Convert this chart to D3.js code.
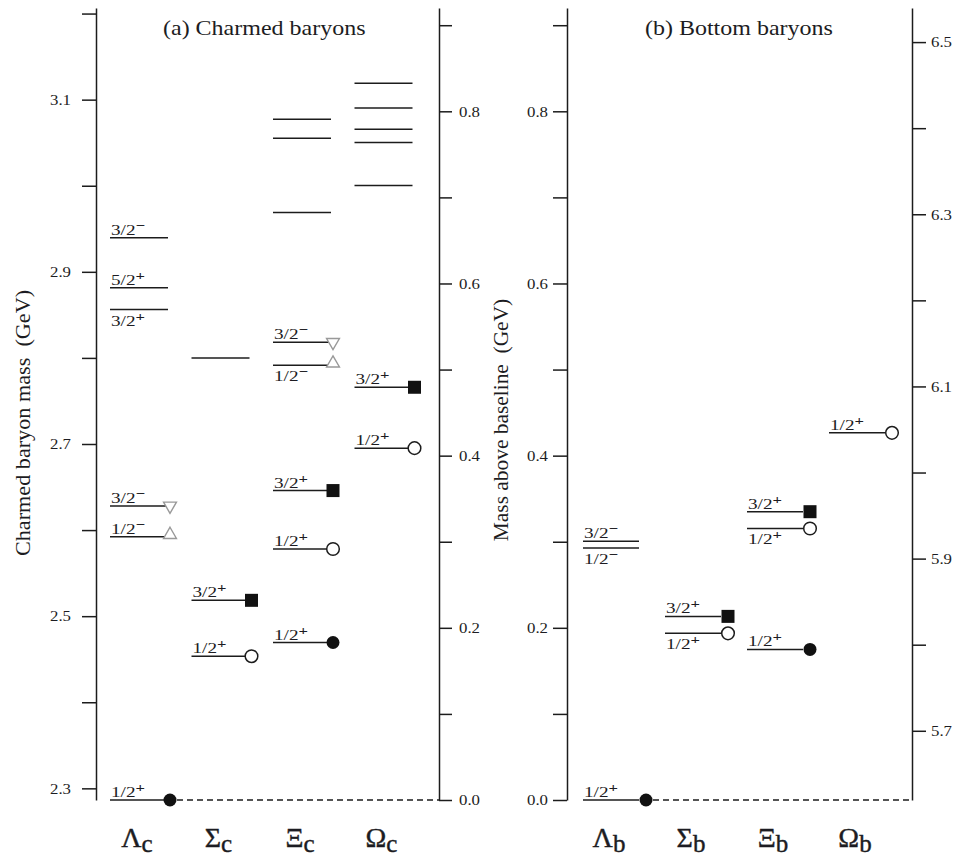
<!DOCTYPE html>
<html>
<head>
<meta charset="utf-8">
<script src="https://cdn.jsdelivr.net/npm/d3@7"></script>
<style>
  body { margin: 0; background: #fff; }
  text { font-family: "Liberation Serif", "Times New Roman", serif; fill: #1c1c22; }
</style>
</head>
<body>
<svg id="chart" width="959" height="856"></svg>
<script>
// Ground-state masses used as the zero of the offset axes (GeV)
const charmBase = 2.28646;   // Λc
const bottomBase = 5.6196;   // Λb

const charmFamilies = ["Λ", "Σ", "Ξ", "Ω"];
const bottomFamilies = ["Λ", "Σ", "Ξ", "Ω"];

// Charmed baryon levels: family, mass (GeV), J^P, label side, marker
const charmLevels = [
  { fam: "Λ", m: 2.28646, jp: "1/2+", side: "above", mark: "dot" },
  { fam: "Λ", m: 2.5923,  jp: "1/2−", side: "above", mark: "triUp" },
  { fam: "Λ", m: 2.6281,  jp: "3/2−", side: "above", mark: "triDown" },
  { fam: "Λ", m: 2.8561,  jp: "3/2+", side: "below", mark: null },
  { fam: "Λ", m: 2.8816,  jp: "5/2+", side: "above", mark: null },
  { fam: "Λ", m: 2.9396,  jp: "3/2−", side: "above", mark: null },
  { fam: "Σ", m: 2.4535,  jp: "1/2+", side: "above", mark: "open" },
  { fam: "Σ", m: 2.5184,  jp: "3/2+", side: "above", mark: "square" },
  { fam: "Σ", m: 2.8000,  jp: null,   side: null,    mark: null },
  { fam: "Ξ", m: 2.4694,  jp: "1/2+", side: "above", mark: "dot" },
  { fam: "Ξ", m: 2.5780,  jp: "1/2+", side: "above", mark: "open" },
  { fam: "Ξ", m: 2.6459,  jp: "3/2+", side: "above", mark: "square" },
  { fam: "Ξ", m: 2.7915,  jp: "1/2−", side: "below", mark: "triUp" },
  { fam: "Ξ", m: 2.8182,  jp: "3/2−", side: "above", mark: "triDown" },
  { fam: "Ξ", m: 2.9690,  jp: null,   side: null,    mark: null },
  { fam: "Ξ", m: 3.0553,  jp: null,   side: null,    mark: null },
  { fam: "Ξ", m: 3.0772,  jp: null,   side: null,    mark: null },
  { fam: "Ω", m: 2.6952,  jp: "1/2+", side: "above", mark: "open" },
  { fam: "Ω", m: 2.7659,  jp: "3/2+", side: "above", mark: "square" },
  { fam: "Ω", m: 3.0004,  jp: null,   side: null,    mark: null },
  { fam: "Ω", m: 3.0502,  jp: null,   side: null,    mark: null },
  { fam: "Ω", m: 3.0656,  jp: null,   side: null,    mark: null },
  { fam: "Ω", m: 3.0902,  jp: null,   side: null,    mark: null },
  { fam: "Ω", m: 3.1191,  jp: null,   side: null,    mark: null }
];

// Bottom baryon levels
const bottomLevels = [
  { fam: "Λ", m: 5.6196, jp: "1/2+", side: "above", mark: "dot" },
  { fam: "Λ", m: 5.9122, jp: "1/2−", side: "below", mark: null },
  { fam: "Λ", m: 5.9201, jp: "3/2−", side: "above", mark: null },
  { fam: "Σ", m: 5.8132, jp: "1/2+", side: "below", mark: "open" },
  { fam: "Σ", m: 5.8329, jp: "3/2+", side: "above", mark: "square" },
  { fam: "Ξ", m: 5.7945, jp: "1/2+", side: "above", mark: "dot" },
  { fam: "Ξ", m: 5.9350, jp: "1/2+", side: "below", mark: "open" },
  { fam: "Ξ", m: 5.9545, jp: "3/2+", side: "above", mark: "square" },
  { fam: "Ω", m: 6.0461, jp: "1/2+", side: "above", mark: "open" }
];

// Axis ticks
const charmMassTicks   = [2.3, 2.4, 2.5, 2.6, 2.7, 2.8, 2.9, 3.0, 3.1, 3.2];
const charmMassLabels  = [2.3, 2.5, 2.7, 2.9, 3.1];
const offsetTicks      = [0.0, 0.1, 0.2, 0.3, 0.4, 0.5, 0.6, 0.7, 0.8, 0.9];
const offsetLabels     = [0.0, 0.2, 0.4, 0.6, 0.8];
const bottomMassTicks  = [5.7, 5.8, 5.9, 6.0, 6.1, 6.2, 6.3, 6.4, 6.5];
const bottomMassLabels = [5.7, 5.9, 6.1, 6.3, 6.5];

const svg = d3.select("#chart");
svg.append("rect").attr("width", 959).attr("height", 856).attr("fill", "#fff");

const SPAN = 0.92;            // GeV shown above each baseline
const yBase = 800, yTop = 8;
const yC   = d3.scaleLinear().domain([charmBase, charmBase + SPAN]).range([yBase, yTop]);
const yOff = d3.scaleLinear().domain([0, SPAN]).range([yBase, yTop]);
const yB   = d3.scaleLinear().domain([bottomBase, bottomBase + SPAN]).range([yBase, yTop]);

const xC = d3.scalePoint().domain(charmFamilies).range([139, 383.5]);
const xB = d3.scalePoint().domain(bottomFamilies).range([611, 857]);

const INK = "#1c1c1c";
const has = (arr, d) => arr.some(v => Math.abs(v - d) < 1e-6);
const fmt = d3.format(".1f");

// Text placed at (x,y) and widened horizontally
function wideText(parent, x, y, str, sx, size, anchor) {
  return parent.append("text")
    .attr("transform", `translate(${x},${y}) scale(${sx},1)`)
    .attr("font-size", size)
    .attr("text-anchor", anchor || "start")
    .text(str);
}

function drawAxis(axisGen, x, sx) {
  const ax = svg.append("g").attr("transform", `translate(${x},0)`).call(axisGen);
  ax.select(".domain").attr("stroke", INK).attr("stroke-width", 1.5);
  ax.selectAll(".tick line").attr("stroke", INK).attr("stroke-width", 1.5);
  ax.selectAll(".tick text")
    .attr("font-family", "Liberation Serif, serif")
    .attr("font-size", 15)
    .attr("fill", "#1c1c22")
    .each(function () {
      const t = d3.select(this);
      const tx = +t.attr("x");
      t.attr("x", 0).attr("transform", `translate(${tx},0) scale(${sx},1)`);
    });
  return ax;
}

// ---- axes ----
drawAxis(d3.axisLeft(yC).tickValues(charmMassTicks)
  .tickFormat(d => has(charmMassLabels, d) ? fmt(d) : "")
  .tickSize(14).tickSizeOuter(0).tickPadding(11), 96, 1.12);

drawAxis(d3.axisRight(yOff).tickValues(offsetTicks)
  .tickFormat(d => has(offsetLabels, d) ? fmt(d) : "")
  .tickSize(13).tickSizeOuter(0).tickPadding(7), 439, 1.12);

drawAxis(d3.axisLeft(yOff).tickValues(offsetTicks)
  .tickFormat(d => has(offsetLabels, d) ? fmt(d) : "")
  .tickSize(14).tickSizeOuter(0).tickPadding(5), 567, 1.12);

drawAxis(d3.axisRight(yB).tickValues(bottomMassTicks)
  .tickFormat(d => has(bottomMassLabels, d) ? fmt(d) : "")
  .tickSize(14).tickSizeOuter(0).tickPadding(5), 912, 1.12);

// ---- axis titles ----
svg.append("text")
  .attr("transform", "translate(30,423) rotate(-90) scale(1.11,1)")
  .attr("text-anchor", "middle").attr("font-size", 20)
  .style("white-space", "pre")
  .text("Charmed baryon mass  (GeV)");

svg.append("text")
  .attr("transform", "translate(508,420) rotate(-90) scale(1.07,1)")
  .attr("text-anchor", "middle").attr("font-size", 20)
  .style("white-space", "pre")
  .text("Mass above baseline  (GeV)");

// ---- panel titles ----
wideText(svg, 163, 35, "(a) Charmed baryons", 1.2, 20);
wideText(svg, 645, 35, "(b) Bottom baryons", 1.2, 20);

// ---- levels ----
function drawPanel(levels, x, y, halfW, markOff, dashEnd, sub) {
  const g = svg.append("g");

  levels.forEach(d => {
    const cx = x(d.fam), ly = y(d.m);
    g.append("line")
      .attr("x1", cx - halfW).attr("x2", cx + halfW)
      .attr("y1", ly).attr("y2", ly)
      .attr("stroke", INK).attr("stroke-width", 1.5);

    if (d.jp) {
      const ty = d.side === "above" ? ly - 3 : ly + 16;
      const t = g.append("text")
        .attr("transform", `translate(${cx - halfW + 1},${ty}) scale(1.28,1)`)
        .attr("font-size", 15);
      t.append("tspan").text(d.jp.slice(0, -1));
      t.append("tspan").attr("font-size", 13).attr("font-weight", "bold")
        .attr("dy", -5).text(d.jp.slice(-1));
    }
  });

  // dashed baseline from the ground state to the right-hand axis
  const ground = levels[0];
  g.append("line")
    .attr("x1", x(ground.fam) + markOff + 7).attr("x2", dashEnd)
    .attr("y1", y(ground.m)).attr("y2", y(ground.m))
    .attr("stroke", INK).attr("stroke-width", 1.3)
    .attr("stroke-dasharray", "6,4");

  const tri = d3.symbol().type(d3.symbolTriangle).size(72);
  levels.filter(d => d.mark).forEach(d => {
    const mx = x(d.fam) + markOff, my = y(d.m);
    if (d.mark === "dot") {
      g.append("circle").attr("cx", mx).attr("cy", my).attr("r", 6.5).attr("fill", "#111");
    } else if (d.mark === "open") {
      g.append("circle").attr("cx", mx).attr("cy", my).attr("r", 6.3)
        .attr("fill", "#fff").attr("stroke", INK).attr("stroke-width", 1.5);
    } else if (d.mark === "square") {
      g.append("rect").attr("x", mx - 6.5).attr("y", my - 6.5)
        .attr("width", 13).attr("height", 13).attr("fill", "#111");
    } else if (d.mark === "triUp") {
      g.append("path").attr("d", tri())
        .attr("transform", `translate(${mx},${my - 2})`)
        .attr("fill", "#fff").attr("stroke", "#999").attr("stroke-width", 1.4);
    } else if (d.mark === "triDown") {
      g.append("path").attr("d", tri())
        .attr("transform", `translate(${mx},${my}) rotate(180)`)
        .attr("fill", "#fff").attr("stroke", "#999").attr("stroke-width", 1.4);
    }
  });

  // family names along the bottom
  x.domain().forEach(f => {
    const t = g.append("text")
      .attr("x", x(f) - 2).attr("y", 847)
      .attr("text-anchor", "middle")
      .attr("font-size", 28)
      .attr("stroke", "#1c1c22").attr("stroke-width", 0.4);
    t.append("tspan").text(f);
    t.append("tspan").attr("font-size", 25).attr("dy", 5).text(sub);
  });
}

drawPanel(charmLevels, xC, yC, 29, 31, 439, "c");
drawPanel(bottomLevels, xB, yB, 28, 35, 912, "b");
</script>
</body>
</html>
